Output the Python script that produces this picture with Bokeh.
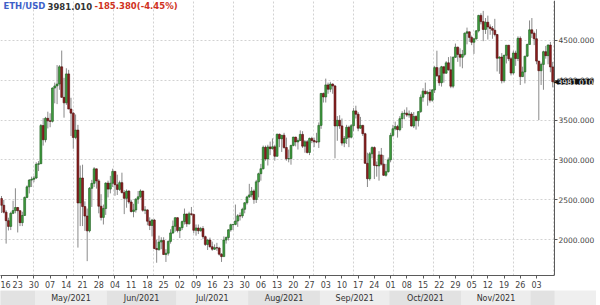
import pandas as pd
from bokeh.plotting import figure
from bokeh.models import (Range1d, FixedTicker, Label, PrintfTickFormatter, LinearAxis,
                          DatetimeTickFormatter, ColumnDataSource, Div)
from bokeh.layouts import column, row
from bokeh.core.properties import value
from bokeh.embed import file_html
from bokeh.resources import INLINE

symbol = "ETH/USD"
first_day = "2021-04-16"

# ---- daily OHLC, Apr 16 2021 .. Dec 10 2021 ----
opens = [
    2516, 2431, 2344, 2238, 2166, 2330, 2364, 2403, 2363, 2213, 2303, 2530, 2662, 2747, 2757,
    2773, 2945, 2952, 3431, 3253, 3522, 3490, 3484, 3902, 3928, 3952, 4168, 3785, 3716, 4079, 3638,
    3587, 3282, 3374, 2460, 2773, 2415, 2296, 2110, 2644, 2706, 2888, 2737, 2419, 2279, 2390,
    2709, 2634, 2707, 2856, 2689, 2630, 2715, 2590, 2518, 2609, 2472, 2353, 2372, 2508, 2537,
    2610, 2368, 2373, 2231, 2178, 2245, 1889, 1875, 1970, 1990, 1813, 1829, 1978, 2084, 2167,
    2275, 2113, 2150, 2226, 2321, 2198, 2324, 2316, 2117, 2146, 2111, 2139, 2037, 1940, 1995,
    1911, 1880, 1899, 1895, 1817, 1787, 1995, 2026, 2123, 2188, 2191, 2233, 2299, 2297, 2380, 2462,
    2536, 2561, 2610, 2504, 2725, 2827, 2890, 3158, 3013, 3163, 3141, 3164, 3046, 3322, 3266,
    3310, 3156, 3014, 3017, 3182, 3286, 3226, 3243, 3320, 3173, 3228, 3094, 3270, 3244, 3227, 3225,
    3433, 3834, 3790, 3941, 3887, 3952, 3928, 3426, 3497, 3427, 3211, 3270, 3410, 3285, 3429,
    3615, 3573, 3398, 3433, 3329, 2958, 2764, 3077, 3155, 2931, 2925, 3063, 2947, 2807, 2853,
    3001, 3308, 3391, 3418, 3380, 3518, 3581, 3587, 3563, 3576, 3425, 3545, 3493, 3606, 3786,
    3863, 3831, 3848, 3749, 3878, 4158, 4057, 3968, 4169, 4088, 4218, 4130, 3925, 4287, 4415, 4324,
    4288, 4324, 4589, 4607, 4537, 4476, 4519, 4620, 4813, 4735, 4637, 4727, 4668, 4649, 4627,
    4573, 4276, 4290, 3994, 4312, 4439, 4269, 4090, 4341, 4272, 4526, 4045, 4104, 4302, 4448,
    4632, 4588, 4520, 4240, 4119, 4198, 4358, 4308, 4441, 4166.39,
]
highs = [
    2547, 2498, 2368, 2275, 2350, 2488, 2644, 2410, 2370, 2350, 2540, 2680, 2760, 2790, 2800,
    2970, 2985, 3450, 3525, 3540, 3605, 3585, 3910, 3970, 4190, 4190, 4372, 4030, 4150, 4130, 3780,
    3600, 3570, 3440, 2930, 2940, 2480, 2390, 2660, 2750, 2910, 2890, 2760, 2570, 2440, 2720,
    2740, 2800, 2890, 2860, 2815, 2740, 2840, 2620, 2630, 2620, 2500, 2450, 2520, 2610, 2630,
    2610, 2420, 2380, 2280, 2260, 2260, 2000, 2050, 2030, 2030, 1880, 1990, 2130, 2240, 2280,
    2280, 2160, 2240, 2390, 2325, 2350, 2410, 2325, 2190, 2190, 2160, 2170, 2050, 2010, 2025,
    1975, 1940, 1960, 1910, 1830, 2040, 2040, 2130, 2200, 2190, 2440, 2320, 2340, 2400, 2470, 2550,
    2700, 2660, 2630, 2750, 2840, 2950, 3180, 3180, 3190, 3230, 3270, 3190, 3330, 3330, 3310,
    3340, 3280, 3130, 3190, 3290, 3290, 3270, 3370, 3360, 3250, 3250, 3280, 3290, 3280, 3340, 3470,
    3840, 3845, 4020, 3970, 3980, 3960, 3940, 3550, 3560, 3520, 3300, 3440, 3430, 3450, 3650,
    3680, 3600, 3540, 3440, 3340, 3090, 3100, 3170, 3170, 2980, 3110, 3150, 3060, 2950, 3030,
    3340, 3440, 3480, 3440, 3550, 3610, 3630, 3660, 3620, 3600, 3600, 3560, 3610, 3820, 3900,
    3970, 3870, 3890, 3890, 4180, 4370, 4160, 4180, 4170, 4240, 4290, 4300, 4300, 4460, 4420, 4400,
    4380, 4600, 4660, 4610, 4560, 4530, 4630, 4820, 4840, 4870, 4780, 4810, 4700, 4680, 4770,
    4580, 4300, 4340, 4320, 4440, 4440, 4290, 4370, 4370, 4550, 4550, 4170, 4300, 4460, 4750,
    4780, 4610, 4640, 4240, 4220, 4370, 4430, 4450, 4480, 4230,
]
lows = [
    2334, 2329, 1950, 2115, 2120, 2320, 2330, 2090, 2170, 2170, 2300, 2520, 2580, 2660, 2720,
    2760, 2860, 2950, 3180, 3220, 3395, 3410, 3470, 3710, 3700, 3880, 3780, 3530, 3690, 3640, 3300,
    3140, 3260, 1900, 2170, 2170, 2110, 1730, 2090, 2410, 2660, 2640, 2330, 2240, 2190, 2310,
    2530, 2580, 2660, 2550, 2560, 2610, 2580, 2320, 2400, 2450, 2340, 2280, 2340, 2450, 2520,
    2350, 2320, 2180, 2120, 2040, 1880, 1710, 1860, 1880, 1810, 1720, 1800, 1950, 2070, 2100,
    2090, 2020, 2120, 2190, 2160, 2190, 2300, 2080, 2050, 2070, 2100, 2010, 1920, 1870, 1900,
    1860, 1870, 1860, 1800, 1720, 1790, 1950, 1990, 2100, 2120, 2180, 2160, 2240, 2270, 2330, 2440,
    2520, 2530, 2450, 2460, 2530, 2740, 2880, 2990, 2930, 3060, 3130, 2990, 3040, 3160, 3100,
    3140, 2990, 2970, 2940, 3170, 3170, 3130, 3240, 3150, 3090, 3080, 3060, 3210, 3160, 3210, 3150,
    3390, 3720, 3720, 3830, 3850, 3830, 3020, 3240, 3390, 3180, 3160, 3200, 3160, 3270, 3360,
    3520, 3360, 3390, 3300, 2950, 2660, 2740, 3020, 2760, 2790, 2740, 2930, 2800, 2790, 2840,
    2970, 3290, 3370, 3280, 3360, 3400, 3510, 3540, 3530, 3420, 3400, 3380, 3420, 3590, 3730,
    3820, 3680, 3720, 3730, 3840, 4040, 3930, 3920, 3970, 4080, 4120, 3900, 3900, 4280, 4230, 4170,
    4150, 4300, 4450, 4480, 4440, 4330, 4510, 4600, 4700, 4490, 4580, 4510, 4570, 4520, 4550,
    4110, 4080, 3960, 3970, 4210, 4240, 4060, 4070, 4180, 4240, 3940, 4040, 3960, 4290, 4450,
    4530, 4440, 4200, 3500, 3940, 3880, 4270, 4200, 4100, 3910,
]
closes = [
    2431, 2344, 2238, 2166, 2330, 2364, 2403, 2363, 2213, 2303, 2530, 2662, 2747, 2757, 2773,
    2945, 2952, 3431, 3253, 3522, 3490, 3484, 3902, 3928, 3952, 4168, 3785, 3716, 4079, 3638, 3587,
    3282, 3374, 2460, 2773, 2415, 2296, 2110, 2644, 2706, 2888, 2737, 2419, 2279, 2390, 2709,
    2634, 2707, 2856, 2689, 2630, 2715, 2590, 2518, 2609, 2472, 2353, 2372, 2508, 2537, 2610,
    2368, 2373, 2231, 2178, 2245, 1889, 1875, 1970, 1990, 1813, 1829, 1978, 2084, 2167, 2275,
    2113, 2150, 2226, 2321, 2198, 2324, 2316, 2117, 2146, 2111, 2139, 2037, 1940, 1995, 1911,
    1880, 1899, 1895, 1817, 1787, 1995, 2026, 2123, 2188, 2191, 2233, 2299, 2297, 2380, 2462, 2536,
    2561, 2610, 2504, 2725, 2827, 2890, 3158, 3013, 3163, 3141, 3164, 3046, 3322, 3266, 3310,
    3156, 3014, 3017, 3182, 3286, 3226, 3243, 3320, 3173, 3228, 3094, 3270, 3244, 3227, 3225, 3433,
    3834, 3790, 3941, 3887, 3952, 3928, 3426, 3497, 3427, 3211, 3270, 3410, 3285, 3429, 3615,
    3573, 3398, 3433, 3329, 2958, 2764, 3077, 3155, 2931, 2925, 3063, 2947, 2807, 2853, 3001,
    3308, 3391, 3418, 3380, 3518, 3581, 3587, 3563, 3576, 3425, 3545, 3493, 3606, 3786, 3863,
    3831, 3848, 3749, 3878, 4158, 4057, 3968, 4169, 4088, 4218, 4130, 3925, 4287, 4415, 4324, 4288,
    4324, 4589, 4607, 4537, 4476, 4519, 4620, 4813, 4735, 4637, 4727, 4668, 4649, 4627, 4573,
    4276, 4290, 3994, 4312, 4439, 4269, 4090, 4341, 4272, 4526, 4045, 4104, 4302, 4448, 4632,
    4588, 4520, 4240, 4119, 4198, 4358, 4308, 4441, 4166.39, 3981.01,
]

y_ticks = [2000, 2500, 3000, 3500, 4000, 4500]
week_ticks = pd.date_range("2021-04-16", "2021-12-03", freq="7D")
month_starts = pd.date_range("2021-04-01", "2022-01-01", freq="MS")

UP, DOWN = "#3f9f3f", "#8e1e1e"
UP_LINE, DOWN_LINE = "#1d5a1d", "#4d0e0e"
WICK = "#8a8a8a"
GRID = "#d2d2d2"
AXIS = "#5a5a5a"
TXT = "#444444"

n = len(closes)
dates = pd.date_range(first_day, periods=n, freq="D")
up = [c >= o for o, c in zip(opens, closes)]
src = ColumnDataSource(dict(
    x=dates, h=highs, l=lows,
    top=[max(o, c) for o, c in zip(opens, closes)],
    bot=[min(o, c) for o, c in zip(opens, closes)],
    fill=[UP if u else DOWN for u in up],
    line=[UP_LINE if u else DOWN_LINE for u in up],
))

def ms(t):
    return pd.Timestamp(t).value // 10**6

DAY = 86400000
PX_PER_DAY = 2.316
FRAME_W = 596
AXIS_PX = 554
x0 = ms(first_day) - 0.43 * DAY
x_axis_pos = x0 + AXIS_PX / PX_PER_DAY * DAY
x1 = x0 + FRAME_W / PX_PER_DAY * DAY
xr = Range1d(x0, x1)
yr = Range1d(1550, 5000)

p = figure(width=FRAME_W, height=290, x_range=xr, y_range=yr, x_axis_type="datetime",
           y_axis_location=None, toolbar_location=None, output_backend="svg",
           min_border_left=0, min_border_top=0, min_border_right=0, min_border_bottom=14)
p.background_fill_color = "white"
p.border_fill_color = "white"
p.outline_line_color = None

# grid
p.ygrid.ticker = FixedTicker(ticks=y_ticks)
p.ygrid.grid_line_color = GRID
p.ygrid.grid_line_dash = "2 2"
grid_px = [33 + 40 * k for k in range(14)]
p.xgrid.ticker = FixedTicker(ticks=[x0 + g / PX_PER_DAY * DAY for g in grid_px])
p.xgrid.grid_line_color = GRID
p.xgrid.grid_line_dash = "2 2"

# blank the price-scale area (to the right of the axis line)
p.quad(left=[x_axis_pos], right=[x1], bottom=[yr.start], top=[yr.end],
       fill_color="white", line_color=None)

p.segment(x0="x", y0="h", x1="x", y1="l", source=src, line_color=WICK, line_width=1)
p.vbar(x="x", top="top", bottom="bot", width=0.82 * DAY, source=src,
       fill_color="fill", line_color="line", line_width=0.6)

# price axis on the right, drawn at the end of the chart area
yax = LinearAxis(fixed_location=x_axis_pos, ticker=FixedTicker(ticks=y_ticks),
                 formatter=PrintfTickFormatter(format="%.3f"))
p.add_layout(yax, "right")

p.xaxis.ticker = FixedTicker(ticks=[ms(t) for t in week_ticks])
p.xaxis.formatter = DatetimeTickFormatter(
    milliseconds="%d", seconds="%d", minsec="%d", minutes="%d", hourmin="%d",
    hours="%d", days="%d", months="%d", years="%d")
p.xaxis.bounds = (x0, x_axis_pos)
for ax in (p.xaxis[0], yax):
    ax.axis_line_color = AXIS
    ax.major_tick_line_color = AXIS
    ax.major_tick_out = 3
    ax.major_tick_in = 0
    ax.minor_tick_line_color = None
    ax.major_label_text_font = "DejaVu Sans"
    ax.major_label_text_color = TXT
    ax.major_label_standoff = 2
p.xaxis.major_label_text_font_size = "8px"
yax.major_label_text_font_size = "7.5px"
yax.major_label_standoff = 1

# header text
last = closes[-1]
chg = closes[-1] - closes[-2]
pct = chg / closes[-2] * 100
head_y = 4925
for xpx, txt, col in [(3, symbol, "#3d5fc8"), (47, f"{last:.3f}", "#333333"),
                      (94, f"{chg:.3f}({pct:.2f}%)", "#d0321e")]:
    p.add_layout(Label(x=xpx, y=head_y, x_units="screen", y_units="data", text=txt,
                       text_color=col, text_font="DejaVu Sans",
                       text_font_style="bold", text_font_size="8.5px",
                       text_baseline="middle"))

# last price tag
p.add_layout(Label(x=553, y=last, x_units="screen", y_units="data", text="\u25C0",
                   text_color="#111111", text_font="DejaVu Sans",
                   text_font_size="7px", text_baseline="middle"))
p.add_layout(Label(x=557, y=last, x_units="screen", y_units="data", text=f"{last:.3f}",
                   text_color="white", background_fill_color="#111111",
                   text_font="DejaVu Sans", text_font_size="7.5px",
                   text_baseline="middle"))

# month band
band = figure(width=FRAME_W, height=15, x_range=xr, y_range=Range1d(0, 1),
              toolbar_location=None, output_backend="svg",
              min_border_left=0, min_border_top=0, min_border_right=0, min_border_bottom=0)
band.axis.visible = False
band.grid.visible = False
band.outline_line_color = None
band.background_fill_color = "#efefef"
band.border_fill_color = "white"
lefts = [ms(m) - DAY / 2 for m in month_starts[:-1]]
rights = [min(ms(m) - DAY / 2, x_axis_pos) for m in month_starts[1:]]
cols = ["#e2e2e2" if i % 2 == 0 else "#ededed" for i in range(len(lefts))]
band.quad(left=lefts, right=rights, bottom=0, top=1, fill_color=cols, line_color=None)
lab_x, lab_t = [], []
for m, l, r in zip(month_starts[:-1], lefts, rights):
    vl, vr = max(l, x0), min(r, x_axis_pos)
    if vr - vl > 20 * DAY:
        lab_x.append((vl + vr) / 2)
        lab_t.append(m.strftime("%b/%Y"))
band.text(x=lab_x, y=[0.5] * len(lab_x), text=lab_t, text_align="center",
          text_baseline="middle", text_font=value("DejaVu Sans"),
          text_font_size="8px", text_color="#333333")

strip = Div(width=4, height=305, styles={"background-color": "#dce6f1"})

layout = row(column(p, band), strip)
open("out.html", "w").write(file_html(layout, INLINE))
